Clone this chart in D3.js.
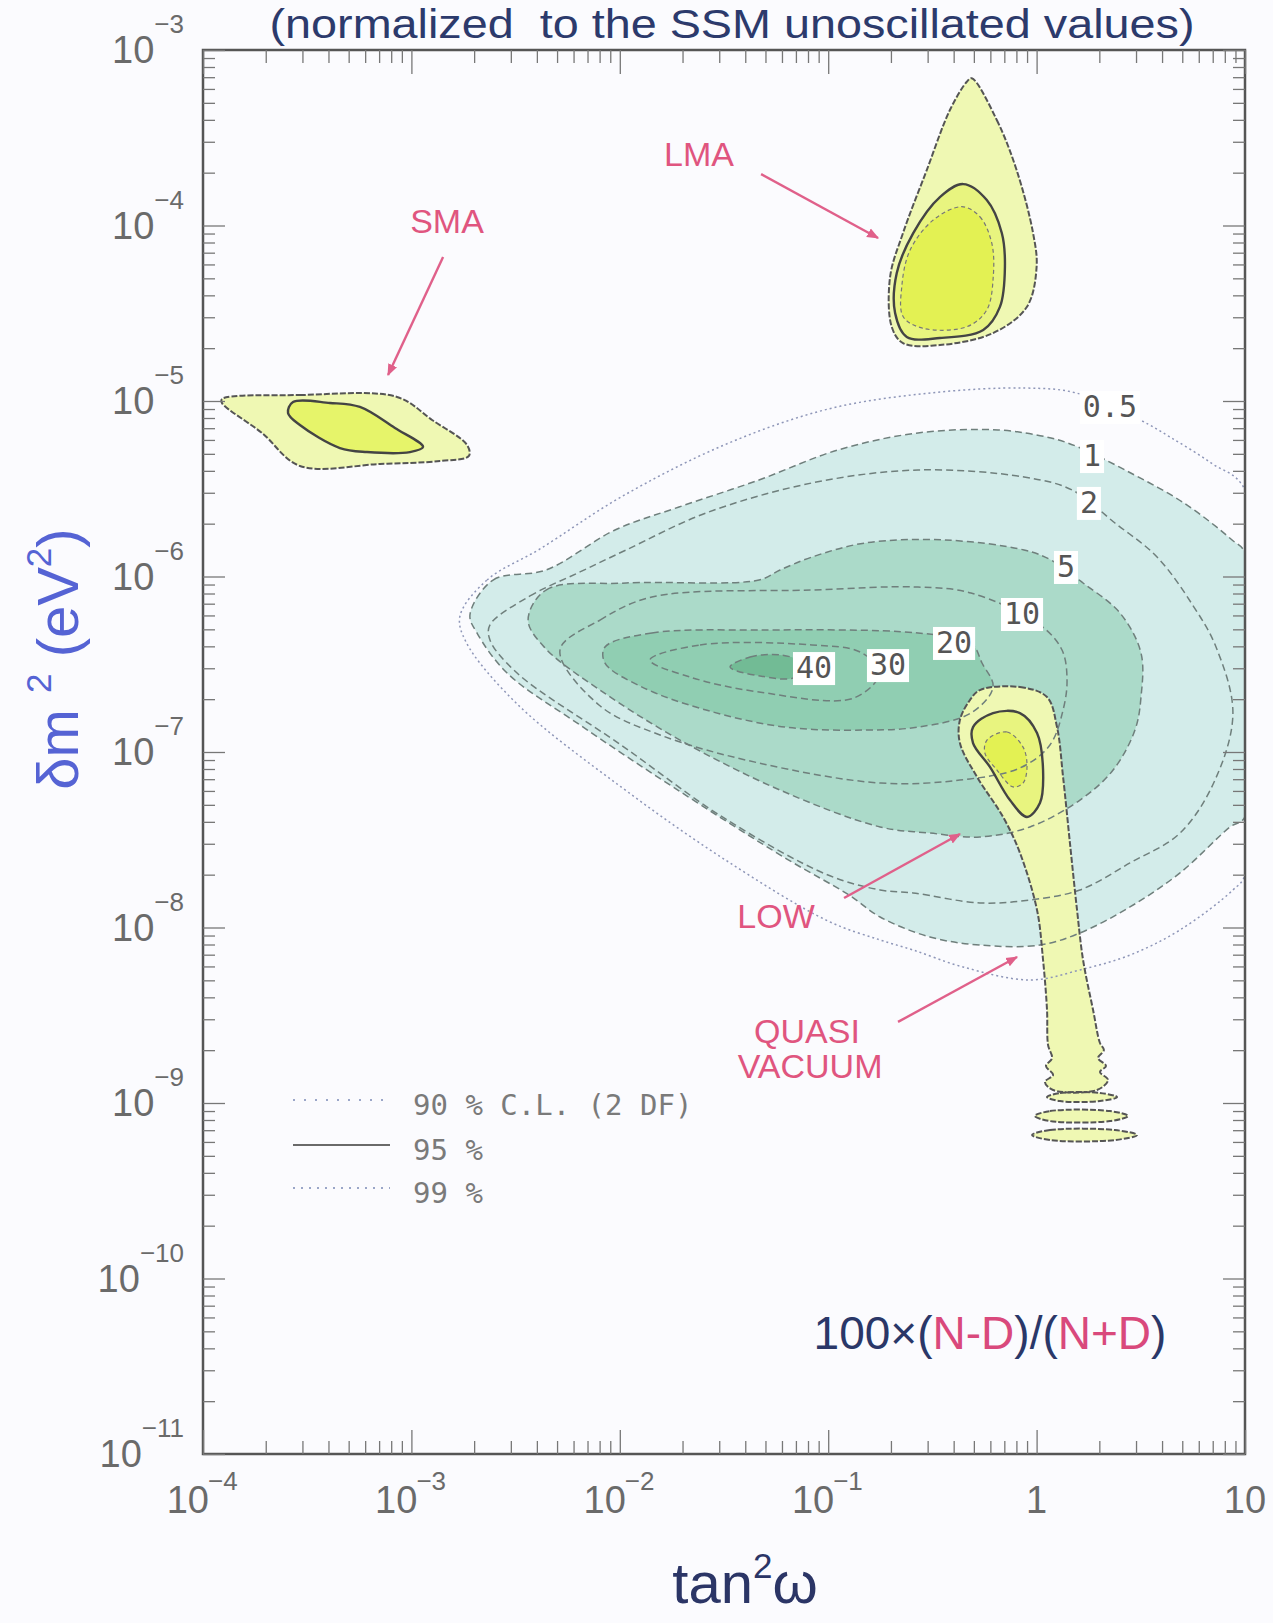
<!DOCTYPE html>
<html><head><meta charset="utf-8">
<script src="https://cdn.jsdelivr.net/npm/d3@7"></script>
<style>
html,body{margin:0;padding:0;background:#fbfbfe;}
svg{display:block;}
</style></head><body>
<svg id="chart" width="1273" height="1623"></svg>
<script>
// All contour points are [log10(tan^2 w), log10(dm^2 / eV^2)]
// ---- axis ticks ----
const xTickExps = [-4, -3, -2, -1, 0, 1];
const yTickExps = [-3, -4, -5, -6, -7, -8, -9, -10, -11];
const minorMultipliers = [2, 3, 4, 5, 6, 7, 8, 9];

// ---- solar fit regions (C.L. 99% outer, 95% middle, 90% inner) ----
const smaOuter = [[-3.909,-4.989],[-3.535,-4.966],[-3.069,-4.977],[-2.901,-5.108],[-2.733,-5.251],[-2.724,-5.313],[-2.863,-5.342],[-3.151,-5.359],[-3.535,-5.370],[-3.717,-5.182],[-3.909,-5.011]];
const smaInner = [[-3.568,-5.006],[-3.391,-5.011],[-3.247,-5.034],[-3.079,-5.154],[-2.944,-5.262],[-3.007,-5.291],[-3.213,-5.291],[-3.343,-5.268],[-3.535,-5.137],[-3.592,-5.068]];
const lmaOuter = [[-0.311,-3.161],[-0.191,-3.399],[-0.096,-3.684],[-0.017,-4.043],[0.0,-4.236],[-0.047,-4.464],[-0.209,-4.613],[-0.464,-4.681],[-0.641,-4.670],[-0.695,-4.578],[-0.703,-4.293],[-0.641,-4.043],[-0.527,-3.684],[-0.416,-3.342],[-0.335,-3.181]];
const lmaMid = [[-0.352,-3.764],[-0.239,-3.855],[-0.167,-4.043],[-0.152,-4.236],[-0.176,-4.464],[-0.256,-4.595],[-0.464,-4.641],[-0.623,-4.635],[-0.679,-4.499],[-0.671,-4.271],[-0.592,-4.043],[-0.464,-3.838]];
const lmaInner = [[-0.359,-3.893],[-0.272,-3.950],[-0.215,-4.101],[-0.208,-4.292],[-0.239,-4.481],[-0.335,-4.577],[-0.544,-4.586],[-0.640,-4.520],[-0.647,-4.349],[-0.607,-4.140],[-0.496,-3.969]];
const lowOuter = [[-0.272,-6.647],[-0.080,-6.630],[0.050,-6.687],[0.098,-6.858],[0.127,-7.142],[0.160,-7.519],[0.194,-7.900],[0.223,-8.185],[0.271,-8.470],[0.304,-8.658],[0.323,-8.698],[0.295,-8.744],[0.333,-8.789],[0.304,-8.823],[0.343,-8.869],[0.290,-8.926],[0.079,-8.926],[0.040,-8.880],[0.079,-8.840],[0.045,-8.789],[0.074,-8.744],[0.055,-8.670],[0.050,-8.470],[0.031,-8.185],[0.002,-7.900],[-0.080,-7.575],[-0.161,-7.370],[-0.286,-7.142],[-0.368,-6.949],[-0.368,-6.818],[-0.320,-6.704]];
const lowMid = [[-0.305,-6.858],[-0.209,-6.778],[-0.080,-6.778],[0.002,-6.892],[0.031,-7.103],[0.016,-7.291],[-0.046,-7.370],[-0.128,-7.274],[-0.224,-7.085],[-0.305,-6.949]];
const lowInner = [[-0.238,-6.932],[-0.142,-6.886],[-0.065,-6.972],[-0.046,-7.085],[-0.065,-7.177],[-0.113,-7.199],[-0.190,-7.103],[-0.248,-7.006]];
const vacIsland1 = [[0.050,-8.966],[0.112,-8.943],[0.304,-8.943],[0.386,-8.966],[0.304,-8.989],[0.112,-8.989]];
const vacIsland2 = [[-0.008,-9.074],[0.064,-9.046],[0.352,-9.046],[0.439,-9.074],[0.352,-9.103],[0.064,-9.103]];
const vacIsland3 = [[-0.022,-9.182],[0.064,-9.154],[0.376,-9.154],[0.482,-9.182],[0.376,-9.211],[0.064,-9.211]];

// ---- day-night asymmetry contours 100x(N-D)/(N+D) ----
const asym05 = [[-2.767,-6.225],[-2.637,-6.020],[-2.383,-5.843],[-1.994,-5.547],[-1.500,-5.251],[-1.001,-5.046],[-0.507,-4.954],[-0.056,-4.926],[0.189,-4.954],[0.496,-5.108],[0.640,-5.205],[0.837,-5.353],[1.0,-5.507],[1.0,-7.701],[0.942,-7.786],[0.688,-8.014],[0.448,-8.157],[0.208,-8.242],[-0.032,-8.299],[-0.353,-8.225],[-0.593,-8.128],[-0.751,-8.071],[-1.001,-7.963],[-1.500,-7.610],[-1.994,-7.199],[-2.493,-6.726],[-2.738,-6.373]];
const asym1 = [[-2.719,-6.219],[-2.608,-6.020],[-2.354,-5.963],[-2.023,-5.735],[-1.716,-5.604],[-1.332,-5.450],[-0.953,-5.279],[-0.569,-5.182],[-0.185,-5.165],[0.069,-5.211],[0.199,-5.262],[0.424,-5.393],[0.707,-5.581],[0.938,-5.792],[1.0,-5.866],[1.0,-7.370],[0.928,-7.427],[0.688,-7.689],[0.448,-7.883],[0.208,-8.031],[0.016,-8.100],[-0.272,-8.100],[-0.512,-8.054],[-0.751,-7.940],[-0.900,-7.815],[-1.198,-7.610],[-1.745,-7.199],[-2.191,-6.846],[-2.541,-6.550],[-2.685,-6.322]];
const asym2 = [[-2.623,-6.276],[-2.431,-6.111],[-2.191,-5.974],[-1.970,-5.849],[-1.586,-5.638],[-1.078,-5.467],[-0.569,-5.393],[-0.060,-5.433],[0.170,-5.507],[0.376,-5.695],[0.578,-5.889],[0.755,-6.174],[0.861,-6.402],[0.942,-6.778],[0.856,-7.160],[0.688,-7.462],[0.448,-7.632],[0.208,-7.786],[-0.032,-7.843],[-0.272,-7.860],[-0.593,-7.803],[-0.751,-7.786],[-1.001,-7.701],[-1.500,-7.376],[-1.994,-6.960],[-2.493,-6.550],[-2.623,-6.362]];
const asym5 = [[-2.440,-6.248],[-2.354,-6.077],[-1.970,-6.037],[-1.332,-6.020],[-1.231,-5.963],[-1.078,-5.889],[-0.823,-5.809],[-0.440,-5.792],[-0.060,-5.849],[0.069,-5.906],[0.223,-6.037],[0.400,-6.208],[0.501,-6.436],[0.501,-6.687],[0.472,-6.875],[0.367,-7.103],[0.208,-7.274],[-0.032,-7.427],[-0.272,-7.484],[-0.512,-7.462],[-0.751,-7.427],[-1.231,-7.217],[-1.711,-6.932],[-2.095,-6.647],[-2.359,-6.407]];
const asym10 = [[-2.287,-6.419],[-2.095,-6.248],[-1.846,-6.117],[-1.078,-6.077],[-0.569,-6.060],[-0.315,-6.094],[0.016,-6.276],[0.122,-6.419],[0.146,-6.590],[0.127,-6.761],[0.064,-6.960],[-0.080,-7.091],[-0.368,-7.160],[-0.747,-7.177],[-1.332,-7.063],[-1.807,-6.903],[-2.100,-6.732]];
const asym20 = [[-2.071,-6.402],[-1.846,-6.322],[-1.332,-6.305],[-0.569,-6.322],[-0.315,-6.379],[-0.262,-6.493],[-0.209,-6.630],[-0.315,-6.778],[-0.569,-6.858],[-0.823,-6.875],[-1.207,-6.858],[-1.586,-6.761],[-1.893,-6.630],[-2.071,-6.493]];
const asym30 = [[-1.855,-6.476],[-1.615,-6.390],[-1.078,-6.390],[-0.847,-6.430],[-0.751,-6.544],[-0.876,-6.692],[-1.332,-6.658],[-1.663,-6.573]];
const asym40 = [[-1.471,-6.516],[-1.375,-6.459],[-1.231,-6.447],[-1.135,-6.487],[-1.159,-6.573],[-1.327,-6.567]];

const contourLabels = ["0.5", "1", "2", "5", "10", "20", "30", "40"];
const contourLabelPos = [[0.352,-5.028],[0.266,-5.308],[0.251,-5.575],[0.141,-5.940],[-0.070,-6.208],[-0.396,-6.373],[-0.713,-6.499],[-1.068,-6.516]];

const annoText = ["SMA", "LMA", "LOW", "QUASI", "VACUUM"];
const annoPos = [[-2.829,-4.043],[-1.620,-3.661],[-1.250,-8.003],[-1.102,-8.658],[-1.087,-8.858]];
const annoArrows = [[[-2.848,-4.179],[-3.112,-4.852]],[[-1.322,-3.707],[-0.761,-4.071]],[[-0.924,-7.832],[-0.368,-7.467]],[[-0.665,-8.538],[-0.094,-8.168]]];

const legendLabels = ["90 % C.L. (2 DF)", "95 %", "99 %"];

// ---------------------------------------------------------------
const svg = d3.select("#chart");
const W = 1273, H = 1623;
const L = 203, R = 1245, T = 50, B = 1454;
const x = d3.scaleLog().domain([1e-4, 10]).range([L, R]);
const y = d3.scaleLog().domain([1e-11, 1e-3]).range([B, T]);
const P = p => [x(Math.pow(10, p[0])), y(Math.pow(10, p[1]))];

const closed = d3.line().curve(d3.curveCatmullRomClosed.alpha(0.5));
const path = pts => closed(pts.map(P));

const defs = svg.append("defs");
defs.append("clipPath").attr("id", "plotclip").append("rect")
  .attr("x", L).attr("y", T).attr("width", R - L).attr("height", B - T);
defs.append("marker").attr("id", "arrow").attr("viewBox", "0 0 10 10")
  .attr("refX", 9).attr("refY", 5).attr("markerWidth", 5).attr("markerHeight", 5)
  .attr("orient", "auto").append("path").attr("d", "M0,1 L10,5 L0,9 z").attr("fill", "#e0608a");

svg.append("rect").attr("width", W).attr("height", H).attr("fill", "#fbfbfe");

const plot = svg.append("g").attr("clip-path", "url(#plotclip)");

// green fills
const greenFills = [[asym1, "#d3ecea"], [asym5, "#abdac9"], [asym20, "#90ceb2"], [asym40, "#72bb95"]];
greenFills.forEach(([pts, c]) => plot.append("path").attr("d", path(pts)).attr("fill", c));

// yellow fills
const yellowSets = [
  [smaOuter, "#eff8b3"], [smaInner, "#e6f46a"],
  [lmaOuter, "#eff8b3"], [lmaMid, "#e8f47f"], [lmaInner, "#e3f153"],
  [lowOuter, "#eff8b3"], [lowMid, "#e8f47f"], [lowInner, "#e3f153"],
  [vacIsland1, "#eff8b3"], [vacIsland2, "#eff8b3"], [vacIsland3, "#eff8b3"]
];
yellowSets.forEach(([pts, c]) => plot.append("path").attr("d", path(pts)).attr("fill", c));

// asymmetry contour lines
plot.append("path").attr("d", path(asym05)).attr("fill", "none")
  .attr("stroke", "#8e96b8").attr("stroke-width", 1.5).attr("stroke-dasharray", "2,3");
[asym1, asym2, asym5, asym10, asym20, asym30, asym40].forEach(pts =>
  plot.append("path").attr("d", path(pts)).attr("fill", "none")
    .attr("stroke", "#6f7f7c").attr("stroke-width", 1.5).attr("stroke-dasharray", "7,4"));

// yellow outlines
[smaOuter, lmaOuter, lowOuter, vacIsland1, vacIsland2, vacIsland3].forEach(pts =>
  plot.append("path").attr("d", path(pts)).attr("fill", "none")
    .attr("stroke", "#555").attr("stroke-width", 2).attr("stroke-dasharray", "6,2"));
[smaInner, lmaMid, lowMid].forEach(pts =>
  plot.append("path").attr("d", path(pts)).attr("fill", "none")
    .attr("stroke", "#444").attr("stroke-width", 2.4));
[lmaInner, lowInner].forEach(pts =>
  plot.append("path").attr("d", path(pts)).attr("fill", "none")
    .attr("stroke", "#777").attr("stroke-width", 1.2).attr("stroke-dasharray", "4,3"));

// contour labels with white boxes
contourLabels.forEach((t, i) => {
  const [cx, cy] = P(contourLabelPos[i]);
  const g = plot.append("g");
  const txt = g.append("text").attr("x", cx).attr("y", cy + 11)
    .attr("text-anchor", "middle").attr("font-family", "DejaVu Sans Mono, monospace")
    .attr("font-size", 30).attr("fill", "#555").text(t);
  const bb = txt.node().getBBox();
  g.insert("rect", "text").attr("x", bb.x - 3).attr("y", bb.y + 2)
    .attr("width", bb.width + 6).attr("height", bb.height - 2).attr("fill", "#fff");
});

// annotations
annoArrows.forEach(a => {
  const p0 = P(a[0]), p1 = P(a[1]);
  svg.append("line").attr("x1", p0[0]).attr("y1", p0[1]).attr("x2", p1[0]).attr("y2", p1[1])
    .attr("stroke", "#e0608a").attr("stroke-width", 2.4).attr("marker-end", "url(#arrow)");
});
annoText.forEach((t, i) => {
  const [ax, ay] = P(annoPos[i]);
  svg.append("text").attr("x", ax).attr("y", ay).attr("text-anchor", "middle")
    .attr("font-family", "Liberation Sans, Arial, sans-serif").attr("font-size", 34)
    .attr("fill", "#e0557f").text(t);
});

// frame
svg.append("rect").attr("x", L).attr("y", T).attr("width", R - L).attr("height", B - T)
  .attr("fill", "none").attr("stroke", "#555").attr("stroke-width", 2.5);

// ticks via d3 axes
const xMajor = xTickExps.map(e => Math.pow(10, e));
const xMinor = [];
for (let e = -4; e < 1; e++) minorMultipliers.forEach(m => xMinor.push(m * Math.pow(10, e)));
const yMajor = yTickExps.map(e => Math.pow(10, e));
const yMinor = [];
for (let e = -11; e < -3; e++) minorMultipliers.forEach(m => yMinor.push(m * Math.pow(10, e)));

function tickAxis(gen, vals, len, tr) {
  const g = svg.append("g").attr("transform", tr)
    .call(gen.tickValues(vals).tickSize(len).tickFormat(""));
  g.select(".domain").remove();
  g.selectAll(".tick line").attr("stroke", "#777").attr("stroke-width", 1.3);
}
tickAxis(d3.axisBottom(x), xMajor, 24, `translate(0,${T})`);
tickAxis(d3.axisBottom(x), xMinor, 13, `translate(0,${T})`);
tickAxis(d3.axisTop(x), xMajor, 24, `translate(0,${B})`);
tickAxis(d3.axisTop(x), xMinor, 13, `translate(0,${B})`);
tickAxis(d3.axisRight(y), yMajor, 22, `translate(${L},0)`);
tickAxis(d3.axisRight(y), yMinor, 12, `translate(${L},0)`);
tickAxis(d3.axisLeft(y), yMajor, 22, `translate(${R},0)`);
tickAxis(d3.axisLeft(y), yMinor, 12, `translate(${R},0)`);

// tick labels
const tickFont = "Liberation Sans, Arial, sans-serif";
xTickExps.forEach(e => {
  const tx = x(Math.pow(10, e));
  if (e === 0 || e === 1) {
    svg.append("text").attr("x", tx).attr("y", 1513).attr("text-anchor", "middle")
      .attr("font-family", tickFont).attr("font-size", 38).attr("fill", "#6a6a6a")
      .text(e === 0 ? "1" : "10");
  } else {
    svg.append("text").attr("x", tx + 6).attr("y", 1513).attr("text-anchor", "end")
      .attr("font-family", tickFont).attr("font-size", 38).attr("fill", "#6a6a6a").text("10");
    svg.append("text").attr("x", tx + 5).attr("y", 1490)
      .attr("font-family", tickFont).attr("font-size", 26).attr("fill", "#6a6a6a")
      .text("\u2212" + Math.abs(e));
  }
});
yTickExps.forEach(e => {
  const ty = y(Math.pow(10, e));
  const t = svg.append("text").attr("x", 184).attr("y", ty + 13).attr("text-anchor", "end")
    .attr("font-family", tickFont).attr("font-size", 38).attr("fill", "#6a6a6a");
  t.append("tspan").text("10");
  t.append("tspan").attr("dy", -30).attr("font-size", 26).text("\u2212" + Math.abs(e));
});

// legend
const legY = [1100, 1145, 1188];
const legStyles = [
  {stroke: "#9aa6c8", w: 2, dash: "2,9"},
  {stroke: "#6a6a6a", w: 2, dash: null},
  {stroke: "#9aa6c8", w: 2, dash: "2,6"}
];
legendLabels.forEach((t, i) => {
  const ln = svg.append("line").attr("x1", 293).attr("x2", 390).attr("y1", legY[i]).attr("y2", legY[i])
    .attr("stroke", legStyles[i].stroke).attr("stroke-width", legStyles[i].w);
  if (legStyles[i].dash) ln.attr("stroke-dasharray", legStyles[i].dash);
  svg.append("text").attr("x", 413).attr("y", legY[i] + 15)
    .attr("font-family", "DejaVu Sans Mono, monospace").attr("font-size", 29)
    .attr("fill", "#7a7a7a").text(t);
});

// formula
const f = svg.append("text").attr("x", 990).attr("y", 1349).attr("text-anchor", "middle")
  .attr("font-family", "Liberation Sans, Arial, sans-serif").attr("font-size", 46);
[["100×(", "#2a3768"], ["N-D", "#d9497c"], [")/(", "#2a3768"], ["N+D", "#d9497c"], [")", "#2a3768"]]
  .forEach(([s, c]) => f.append("tspan").attr("fill", c).text(s));

// title
svg.append("text").attr("x", 732).attr("y", 38).attr("text-anchor", "middle")
  .attr("font-family", "Liberation Sans, Arial, sans-serif").attr("font-size", 41)
  .attr("fill", "#2c3a6c").attr("textLength", 925).attr("lengthAdjust", "spacingAndGlyphs")
  .style("white-space", "pre")
  .text("(normalized  to the SSM unoscillated values)");

// x title
const xt = svg.append("text").attr("x", 745).attr("y", 1603).attr("text-anchor", "middle")
  .attr("font-family", "Liberation Sans, Arial, sans-serif").attr("font-size", 58).attr("fill", "#2b3566");
xt.append("tspan").text("tan");
xt.append("tspan").attr("dy", -25).attr("font-size", 35).text("2");
xt.append("tspan").attr("dy", 25).text("ω");

// y title
const yt = svg.append("text").attr("transform", "translate(78,659) rotate(-90)").attr("text-anchor", "middle")
  .attr("font-family", "Liberation Sans, Arial, sans-serif").attr("font-size", 58).attr("fill", "#5563d4")
  .style("white-space", "pre");
yt.append("tspan").text("δm ");
yt.append("tspan").attr("dy", -27).attr("font-size", 35).text("2");
yt.append("tspan").attr("dy", 27).text(" (eV");
yt.append("tspan").attr("dy", -27).attr("font-size", 35).text("2");
yt.append("tspan").attr("dy", 27).text(")");
</script>
</body></html>
